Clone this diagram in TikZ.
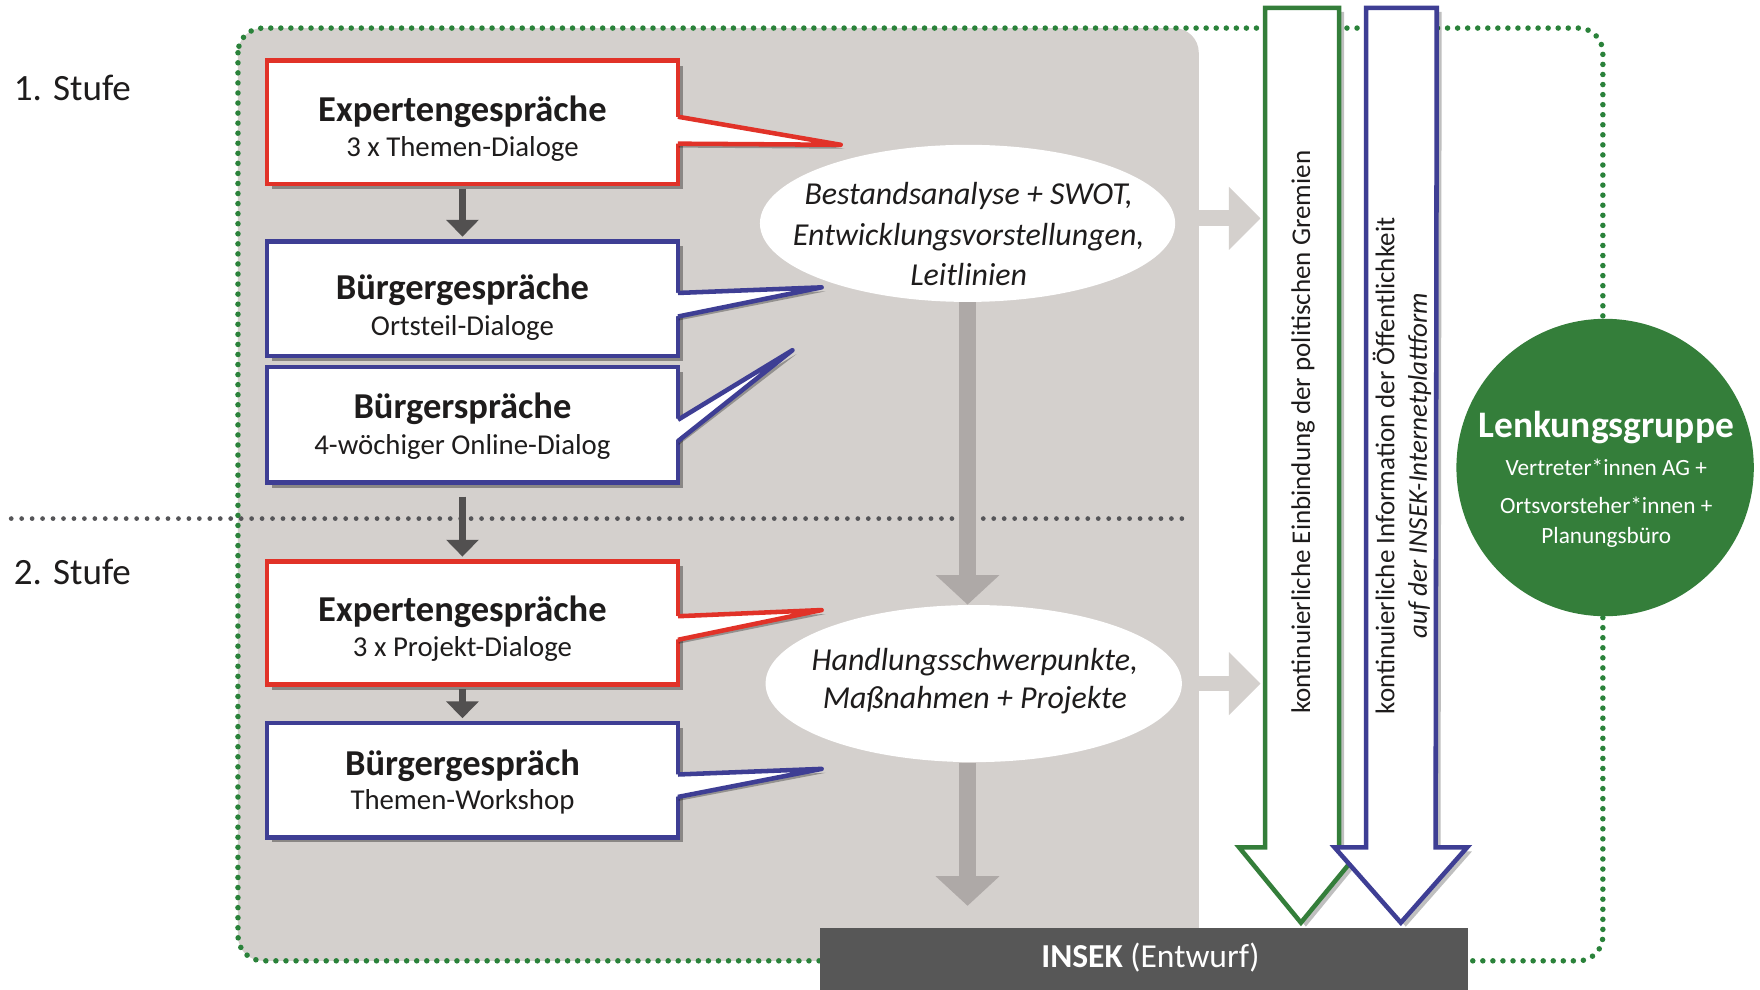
\documentclass[tikz,border=0pt]{standalone}
\usepackage{fontspec}
\setmainfont{Carlito}
\usetikzlibrary{arrows.meta,shadows,shapes.geometric,calc}
\definecolor{myred}{RGB}{225,50,40}
\definecolor{myblue}{RGB}{62,62,148}
\definecolor{mygreen}{RGB}{52,126,58}
\definecolor{dotgreen}{RGB}{42,130,58}
\definecolor{bggrey}{RGB}{212,208,205}
\definecolor{midgrey}{RGB}{174,169,167}
\definecolor{darkarrow}{RGB}{82,80,80}
\definecolor{insekgrey}{RGB}{87,87,87}
\definecolor{dotgrey}{RGB}{85,85,88}
\definecolor{txt}{RGB}{30,28,28}
\begin{document}
\begin{tikzpicture}[x=0.02cm,y=-0.02cm,
  ttl/.style={font=\fontsize{18.5}{22}\selectfont\bfseries,text=txt,inner sep=0pt,anchor=base},
  subt/.style={font=\fontsize{14.6}{17}\selectfont,text=txt,inner sep=0pt,anchor=base},
  etxt/.style={font=\fontsize{16.2}{20}\selectfont\itshape,text=txt,inner sep=0pt,anchor=base},
  stufe/.style={font=\fontsize{18.8}{22}\selectfont,text=txt,inner sep=0pt,anchor=base west},
  vtxt/.style={font=\fontsize{13.7}{16.5}\selectfont,text=txt,inner sep=0pt,rotate=90},
  lgt/.style={font=\fontsize{19}{22}\selectfont\bfseries,text=white,inner sep=0pt,anchor=base},
  lgs/.style={font=\fontsize{11.8}{14}\selectfont,text=white,inner sep=0pt,anchor=base},
  boxshadow/.style={drop shadow={shadow xshift=2.5pt,shadow yshift=-2.5pt,opacity=0.35,fill=black}},
  cbox/.style={draw=#1,line width=2.3pt,fill=white,minimum width=7.32cm,inner sep=0pt,boxshadow},
  ptrfill/.style={fill=white,drop shadow={shadow xshift=2pt,shadow yshift=-2pt,opacity=0.3,fill=black}},
  ptr/.style={draw=#1,line width=2.3pt,line join=round},
  darr/.style={draw=darkarrow,line width=3.1pt,-{Triangle[width=16pt,length=8.5pt]}},
  garr/.style={draw=midgrey,line width=9pt,-{Triangle[width=31.5pt,length=15pt]}},
  larr/.style={draw=bggrey,line width=8pt,-{Triangle[width=31pt,length=16pt]}},
  bigarrow/.style={draw=#1,line width=2.3pt,fill=white,line join=miter,drop shadow={shadow xshift=2.5pt,shadow yshift=-2pt,opacity=0.25,fill=black}},
  gdots/.style={draw=dotgreen,line width=2.8pt,line cap=round,dash pattern=on 0pt off 5.1pt},
  hdots/.style={draw=dotgrey,line width=2.4pt,line cap=round,dash pattern=on 0pt off 5.3pt},
  ellnode/.style={ellipse,fill=white,minimum height=2.8cm,inner sep=0pt}
]
\useasboundingbox (0,0) rectangle (1568,882);
\fill[white] (0,0) rectangle (1568,882);
% grey area and frames
\fill[bggrey, rounded corners=0.44cm] (212,25) rectangle (1068,856);
\draw[gdots, rounded corners=0.44cm] (212,25) rectangle (1428,856);
\coordinate (hl) at (10,462);
\coordinate (hr) at (1062,462);
\draw[hdots] (hl) -- (hr);
% stage labels
\node[stufe] (st1) at (12,89.7) {1. Stufe};
\node[stufe] (st2) at (12,521) {2. Stufe};
% boxes
\coordinate (ax) at (412,0);
\node[cbox=myred, minimum height=2.2cm] (b1) at (421,109) {};
\node[cbox=myblue, minimum height=2.04cm] (b2) at (421,266) {};
\node[cbox=myblue, minimum height=2.06cm] (b3) at (421,378.5) {};
\node[cbox=myred, minimum height=2.2cm] (b4) at (421,555) {};
\node[cbox=myblue, minimum height=2.04cm] (b5) at (421,695) {};
% dark arrows
\draw[darr, shorten <=1.2pt, shorten >=1.2pt] (b1.south -| ax) -- (b2.north -| ax);
\draw[darr, shorten <=6pt, shorten >=1.2pt] (b3.south -| ax) -- (b4.north -| ax);
\draw[darr, shorten <=1.2pt, shorten >=1.2pt] (b4.south -| ax) -- (b5.north -| ax);
% pointers
\coordinate (p1u) at (604,104); \coordinate (p1l) at (604,128); \coordinate (p1t) at (749,129);
\coordinate (p2u) at (604,261); \coordinate (p2l) at (604,282); \coordinate (p2t) at (732,256);
\coordinate (p3u) at (604,374); \coordinate (p3l) at (604,393); \coordinate (p3t) at (706,312);
\coordinate (p4u) at (604,549); \coordinate (p4l) at (604,570); \coordinate (p4t) at (732,543.5);
\coordinate (p5u) at (604,690); \coordinate (p5l) at (604,710); \coordinate (p5t) at (732,685);
\fill[ptrfill] ($(p1u)+(-3,0)$) -- (p1t) -- ($(p1l)+(-3,0)$) -- cycle;
\draw[ptr=myred] (p1u) -- (p1t) -- (p1l);
\fill[ptrfill] ($(p2u)+(-3,0)$) -- (p2t) -- ($(p2l)+(-3,0)$) -- cycle;
\draw[ptr=myblue] (p2u) -- (p2t) -- (p2l);
\fill[ptrfill] ($(p3u)+(-3,0)$) -- (p3t) -- ($(p3l)+(-3,0)$) -- cycle;
\draw[ptr=myblue] (p3u) -- (p3t) -- (p3l);
\fill[ptrfill] ($(p4u)+(-3,0)$) -- (p4t) -- ($(p4l)+(-3,0)$) -- cycle;
\draw[ptr=myred] (p4u) -- (p4t) -- (p4l);
\fill[ptrfill] ($(p5u)+(-3,0)$) -- (p5t) -- ($(p5l)+(-3,0)$) -- cycle;
\draw[ptr=myblue] (p5u) -- (p5t) -- (p5l);
% box texts
\node[ttl] (t1) at (412,108) {Expertengespräche};
\node[subt] (s1) at (412,139.5) {3 x Themen-Dialoge};
\node[ttl] (t2) at (412,267) {Bürgergespräche};
\node[subt] (s2) at (412,298.5) {Ortsteil-Dialoge};
\node[ttl] (t3) at (412,372.5) {Bürgerspräche};
\node[subt] (s3) at (412,405) {4-wöchiger Online-Dialog};
\node[ttl] (t4) at (412,554) {Expertengespräche};
\node[subt] (s4) at (412,585) {3 x Projekt-Dialoge};
\node[ttl] (t5) at (412,690.5) {Bürgergespräch};
\node[subt] (s5) at (412,721.5) {Themen-Workshop};
% ellipses
\node[ellnode, minimum width=7.4cm] (e1) at (862,199) {};
\node[ellnode, minimum width=7.42cm] (e2) at (867.5,609) {};
\node[etxt] (e1a) at (863,182.6) {Bestandsanalyse + SWOT,};
\node[etxt] (e1b) at (863,218.3) {Entwicklungsvorstellungen,};
\node[etxt] (e1c) at (863,254) {Leitlinien};
\node[etxt] (e2a) at (868.5,597) {Handlungsschwerpunkte,};
\node[etxt] (e2b) at (868.5,631) {Maßnahmen + Projekte};
% grey arrows
\coordinate (gend) at (862,807);
\draw[garr] (e1.south) -- (e1.south |- e2.north);
\draw[garr] (e1.south |- e2.south) -- (gend);
% light arrows
\coordinate (ra1) at (1068,194.5); \coordinate (rb1) at (1123,194.5);
\coordinate (ra2) at (1068,609); \coordinate (rb2) at (1123,609);
\draw[larr] (ra1) -- (rb1);
\draw[larr] (ra2) -- (rb2);
% big hollow arrows
\draw[bigarrow=mygreen] (1127,7) -- (1193,7) -- (1193,755) -- (1214,755) -- (1159,822) -- (1104,755) -- (1127,755) -- cycle;
\draw[bigarrow=myblue] (1217,7) -- (1280,7) -- (1279,755) -- (1307,755) -- (1248,822) -- (1189,755) -- (1217,755) -- cycle;
\node[vtxt] (vt1) at (1161,385) {kontinuierliche Einbindung der politischen Gremien};
\node[vtxt, align=center] (vt2) at (1249,415) {kontinuierliche Information der Öffentlichkeit\\\textit{auf der INSEK-Internetplattform}};
% Lenkungsgruppe
\node[circle, fill=mygreen, minimum size=5.3cm, inner sep=0pt] (lg) at (1430,416.5) {};
\node[lgt] (lg1) at (1431,390) {Lenkungsgruppe};
\node[lgs] (lg2) at (1431,423.5) {Vertreter*innen AG +};
\node[lgs] (lg3) at (1431,457.5) {Ortsvorsteher*innen +};
\node[lgs] (lg4) at (1431,484) {Planungsbüro};
% INSEK
\node[fill=insekgrey, minimum width=11.56cm, minimum height=1.12cm, inner sep=0pt, anchor=north west] (insek) at (730,826) {};
\node[font=\fontsize{17}{20}\selectfont, text=white, inner sep=0pt] (insekt) at (1025,853) {\textbf{INSEK} (Entwurf)};
\end{tikzpicture}
\end{document}
